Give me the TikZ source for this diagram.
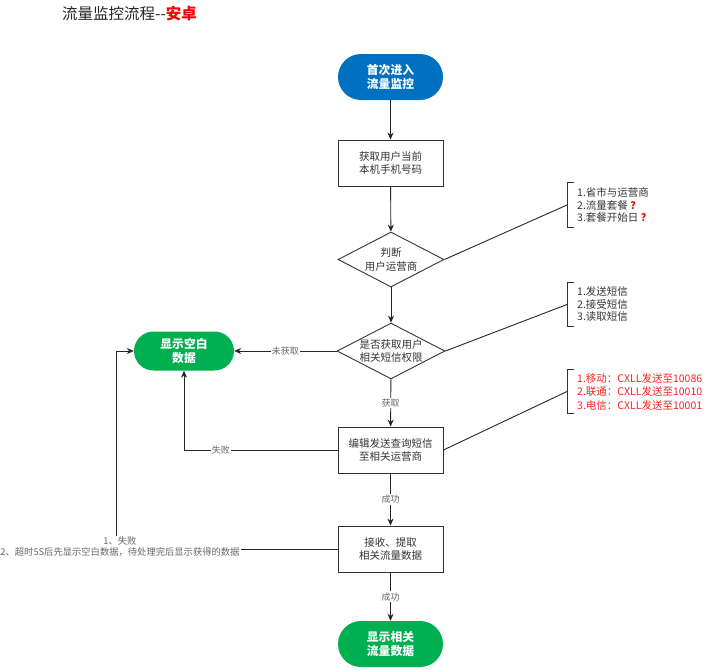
\documentclass[tikz,border=0pt]{standalone}
\usepackage{fontspec}
\setmainfont{Noto Sans CJK SC}
\usetikzlibrary{shapes.geometric,arrows.meta}
\definecolor{termblue}{HTML}{0070C0}
\definecolor{termgreen}{HTML}{00B050}
\definecolor{inktext}{HTML}{333333}
\definecolor{lbltext}{HTML}{666666}
\definecolor{noteRed}{HTML}{FF2020}
\newcommand{\qmark}{{\color{red}\bfseries ？}}

\begin{document}
\begin{tikzpicture}[
    x=1pt, y=-1pt,
    >={Stealth[length=7pt,width=6pt]},
    font=\fontsize{10.5}{13.5}\selectfont,
    % terminators: white bold text on a coloured stadium
    term/.style={rounded corners=23pt, minimum width=105pt, minimum height=46pt,
      text=white, font=\fontsize{11.8}{14.5}\selectfont\bfseries, align=center, inner sep=0pt},
    proc/.style={draw=inktext, line width=0.9pt, minimum width=105pt, minimum height=46pt,
      text=inktext, align=center, inner sep=0pt},
    decide/.style={diamond, draw=inktext, line width=0.9pt, aspect=1.93, minimum width=106pt,
      minimum height=55pt, text=inktext, align=center, inner sep=0pt},
    lbl/.style={fill=white, text=lbltext, font=\fontsize{9}{11}\selectfont, inner sep=1pt},
    note/.style={anchor=west, align=left, text=inktext, minimum height=44pt, inner xsep=3pt, inner ysep=0pt},
    brk/.style={draw=inktext, line width=0.9pt},
    flow/.style={->, line width=0.9pt, draw=black!85},
    tie/.style={line width=0.9pt, draw=black!85}
  ]

  \useasboundingbox (0,0) rectangle (706,670);

  % ---------------------------------------------------------
  % TITLE
  % ---------------------------------------------------------
  \node[anchor=west, text=black!85, font=\fontsize{15.5}{18}\selectfont, inner sep=0pt] (title) at (62,14)
    {流量监控流程-{}-{\color{red}\bfseries 安卓}};

  % ---------------------------------------------------------
  % MAIN COLUMN (X = 390)
  % ---------------------------------------------------------
  \node[term, fill=termblue] (start) at (390.5,77) {首次进入\\流量监控};
  \node[proc] (getnum) at (390.5,163) {获取用户当前\\本机手机号码};
  \node[decide] (judge) at (391,259.5) {判断\\用户运营商};
  \node[decide] (perm) at (391,351) {是否获取用户\\相关短信权限};
  \node[proc] (sendsms) at (390.5,450) {编辑发送查询短信\\至相关运营商};
  \node[proc] (recv) at (390.5,549) {接收、提取\\相关流量数据};
  \node[term, fill=termgreen] (show) at (390.5,644) {显示相关\\流量数据};

  % fallback terminator on the left
  \node[term, fill=termgreen, minimum width=100pt, minimum height=39pt, rounded corners=19.5pt]
    (blank) at (184,351) {显示空白\\数据};

  \draw[flow] (start) -- (getnum);
  \draw[flow] (getnum) -- (judge);
  \draw[flow] (judge) -- (perm);
  \draw[flow] (perm) -- node[lbl] {获取} (sendsms);
  \draw[flow] (sendsms) -- node[lbl] {成功} (recv);
  \draw[flow] (recv) -- node[lbl] {成功} (show);

  % ---------------------------------------------------------
  % FAILURE PATHS
  % ---------------------------------------------------------
  \draw[flow] (perm.west) -- node[lbl] {未获取} (blank.east);
  \draw[flow] (sendsms.west) -| node[lbl, pos=0.38] {失败} (blank.south);

  \coordinate (failbend) at (116,549);
  \draw[flow] (recv.west) -- (failbend) |- (blank.west);
  \node[lbl, align=center, font=\fontsize{9.3}{11}\selectfont] (failnote) at (120,547)
    {1、失败\\2、超时5S后先显示空白数据，待处理完后显示获得的数据};

  % ---------------------------------------------------------
  % SIDE NOTES (bracket at X = 567)
  % ---------------------------------------------------------
  \node[note, font=\fontsize{10.5}{12.5}\selectfont] (note1) at (574,205)
    {1.省市与运营商\\2.流量套餐 \qmark\\3.套餐开始日 \qmark};
  \node[note, font=\fontsize{10.5}{12.5}\selectfont, minimum height=43pt] (note2) at (574,304.5)
    {1.发送短信\\2.接受短信\\3.读取短信};
  \node[note, text=noteRed, minimum height=43pt] (note3) at (574,391.5)
    {1.移动：CXLL发送至10086\\2.联通：CXLL发送至10010\\3.电信：CXLL发送至10001};

  \draw[brk] (note1.north west) -- ++(-7,0) |- (note1.south west);
  \draw[brk] (note2.north west) -- ++(-7,0) |- (note2.south west);
  \draw[brk] (note3.north west) -- ++(-7,0) |- (note3.south west);

  \draw[tie] (judge.east) -- ([xshift=-7pt]note1.west);
  \draw[tie] (perm.east) -- ([xshift=-7pt]note2.west);
  \draw[tie] (sendsms.east) -- ([xshift=-7pt]note3.west);

\end{tikzpicture}
\end{document}
